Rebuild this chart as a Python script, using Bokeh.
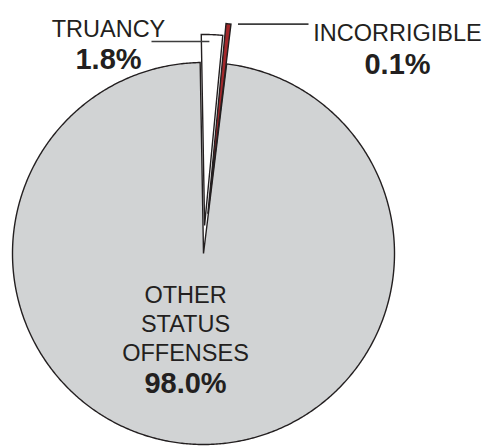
import numpy as np
from bokeh.plotting import figure
from bokeh.models import Range1d, ColumnDataSource
from bokeh.embed import file_html
from bokeh.resources import INLINE
from bokeh.core.properties import value

# ---------------- data ----------------
categories = ["TRUANCY", "INCORRIGIBLE", "OTHER STATUS OFFENSES"]
shares = [1.8, 0.1, 98.0]
pct_labels = ["1.8%", "0.1%", "98.0%"]
name_lines = [["TRUANCY"], ["INCORRIGIBLE"], ["OTHER", "STATUS", "OFFENSES"]]

# ---------------- style / layout ----------------
fills = ["#ffffff", "#a3282b", "#d1d3d4"]
explode_px = [28, 40, 0]
CX, CY, R = 203, 253, 191
START_DEG = 91.0     # left edge of first slice, degrees ccw from +x
MIN_ANGLE = 1.5      # minimum drawn angle so tiny slices stay visible
OUTLINE = "#231f20"
TEXT_COLOR = "#231f20"
label_pos = [(108, 28, 58), (397, 32, 63), (185, 294, 382)]  # x, first name baseline, pct baseline
LINE_STEP = 29

W, H = 486, 447
p = figure(width=W, height=H, x_range=Range1d(0, W), y_range=Range1d(H, 0),
           output_backend="svg", toolbar_location=None, min_border=0,
           x_axis_type=None, y_axis_type=None)
p.grid.visible = False
p.outline_line_color = None
p.background_fill_color = "white"
p.border_fill_color = "white"

# slice angles from the data
vals = np.array(shares, dtype=float)
ang = vals / vals.sum() * 360.0
ang = np.maximum(ang, MIN_ANGLE)
ang = ang * 360.0 / ang.sum()
ends = START_DEG - np.concatenate([[0.0], np.cumsum(ang)[:-1]])
starts = ends - ang

xs, ys, apexes, tips = [], [], [], []
for s, e, a, ex in zip(starts, ends, ang, explode_px):
    mid = np.radians((s + e) / 2)
    ax = CX + ex * np.cos(mid)
    ay = CY - ex * np.sin(mid)
    t = np.radians(np.linspace(s, e, max(3, int(a * 2) + 3)))
    px = ax + R * np.cos(t)
    py = ay - R * np.sin(t)
    xs.append([ax] + list(px))
    ys.append([ay] + list(py))
    apexes.append((ax, ay))
    tips.append((ax + R * np.cos(np.radians(s)), ay - R * np.sin(np.radians(s))))

order = [2, 0, 1]
src = ColumnDataSource(dict(
    xs=[xs[i] for i in order], ys=[ys[i] for i in order],
    fill=[fills[i] for i in order], cat=[categories[i] for i in order]))
p.patches("xs", "ys", source=src, fill_color="fill", line_color=OUTLINE,
          line_width=1.4, line_join="miter")

# leader lines
lead_col = "#3d3d3d"
tr_y = 41
tr_apex = apexes[0]
tr_left_x = tr_apex[0] + (tr_apex[1] - tr_y) / np.tan(np.radians(ends[0]))
p.segment(x0=[151], y0=[tr_y], x1=[tr_left_x + 8], y1=[tr_y], line_color=lead_col, line_width=1.6)
ix, iy = tips[1]
p.segment(x0=[ix + 7], y0=[iy], x1=[308], y1=[iy], line_color=lead_col, line_width=1.6)

# labels
FONT = value("Liberation Sans")
for i, (lx, ny, py_) in enumerate(label_pos):
    for k, line in enumerate(name_lines[i]):
        p.text(x=[lx], y=[ny + k * LINE_STEP], text=[line], text_font=FONT,
               text_font_size="23.5px", text_align="center", text_baseline="alphabetic",
               text_color=TEXT_COLOR)
    p.text(x=[lx], y=[py_], text=[pct_labels[i]], text_font=FONT,
           text_font_size="29px", text_font_style="bold", text_align="center",
           text_baseline="alphabetic", text_color=TEXT_COLOR)

open("out.html", "w").write(file_html(p, INLINE))
